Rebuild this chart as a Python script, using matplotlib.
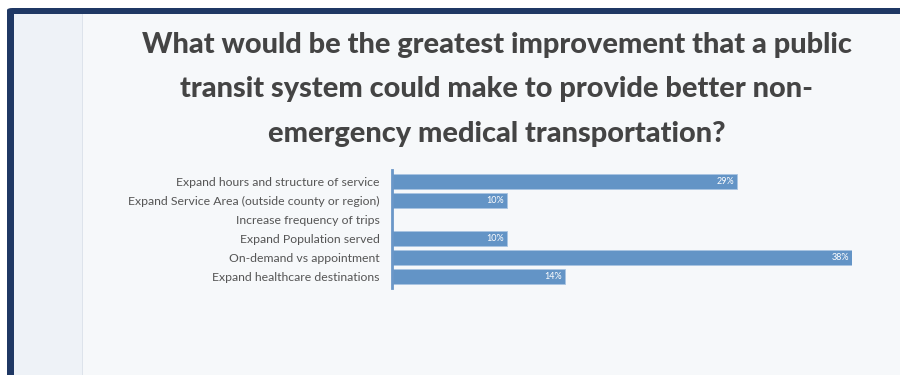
import matplotlib.pyplot as plt
from matplotlib.patches import Rectangle, FancyBboxPatch

categories = [
    "Expand hours and structure of service",
    "Expand Service Area (outside county or region)",
    "Increase frequency of trips",
    "Expand Population served",
    "On-demand vs appointment",
    "Expand healthcare destinations",
]
# share of respondents, in percent
shares = [28.57, 9.52, 0.0, 9.52, 38.10, 14.29]

title_lines = [
    "What would be the greatest improvement that a public",
    "transit system could make to provide better non-",
    "emergency medical transportation?",
]

W, H = 900, 375
fig = plt.figure(figsize=(W / 100, H / 100), dpi=100)
fig.patch.set_facecolor("white")


def fx(px):
    return px / W


def fy(py):
    return 1 - py / H


# card frame, side panel and main panel (behind the axes)
bg = dict(transform=fig.transFigure, edgecolor="none", zorder=-5)
fig.patches.append(FancyBboxPatch((fx(7), fy(420)), fx(960), 412 / H,
                                  boxstyle="round,pad=0,rounding_size=0.006",
                                  facecolor="#1f3864", **bg))
fig.patches.append(Rectangle((fx(14), 0), fx(900), fy(14), facecolor="#f6f8fa", **bg))
fig.patches.append(Rectangle((fx(14), 0), fx(68), fy(14), facecolor="#eef2f7", **bg))
fig.patches.append(Rectangle((fx(82), 0), fx(1), fy(14), facecolor="#dde3eb", **bg))

for line, base in zip(title_lines, [53, 97.5, 142]):
    fig.text(fx(497), fy(base), line, ha="center", va="baseline",
             fontsize=20.8, fontweight=900, family="Lato", color="#444444")

ax = fig.add_axes([fx(392), fy(288), fx(852) - fx(392), (288 - 170) / H])
ax.set_facecolor("none")

ypos = list(range(len(categories)))
bars = ax.barh(ypos, shares, height=0.8, color="#6394c6", edgecolor="#a9c4e2",
               linewidth=0.6)
for bar, v in zip(bars, shares):
    if v > 0:
        ax.text(v - 0.25, bar.get_y() + bar.get_height() / 2, f"{v:.0f}%",
                ha="right", va="center", fontsize=6.5, color="white", family="Lato")

ax.set_xlim(0, max(shares))
ax.set_ylim(len(categories) - 0.4, -0.6)
ax.set_yticks(ypos)
ax.set_yticklabels(categories, fontsize=8.85, color="#555555", family="Lato")
ax.tick_params(axis="y", length=0, pad=9)
ax.set_xticks([])
for side in ["top", "right", "bottom"]:
    ax.spines[side].set_visible(False)
ax.spines["left"].set_color("#6a97c8")
ax.spines["left"].set_linewidth(2)

fig.savefig("out.png", dpi=100)
